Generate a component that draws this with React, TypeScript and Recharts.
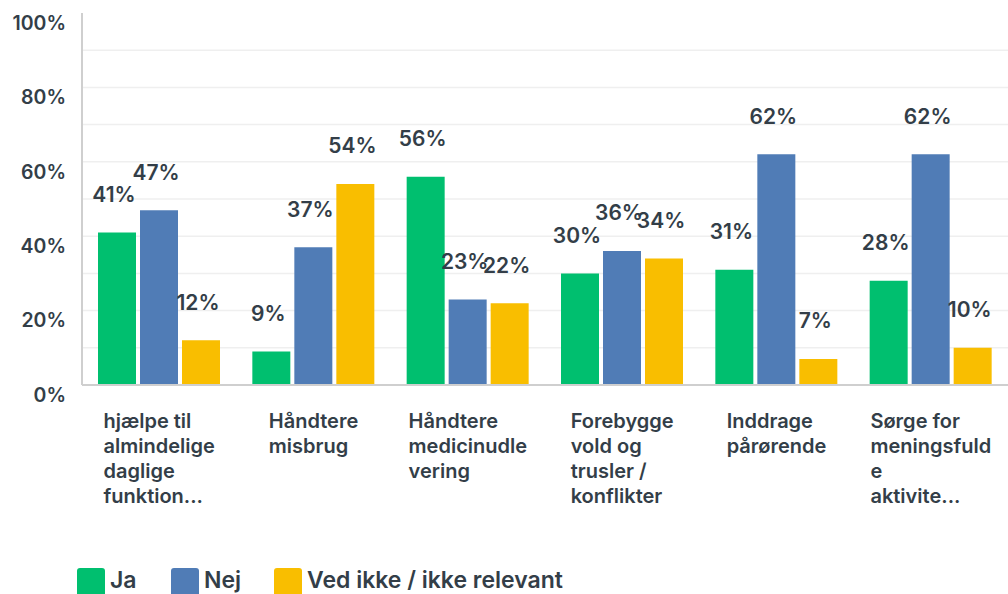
import React from 'react';
import { BarChart, Bar, XAxis, YAxis, CartesianGrid, LabelList } from 'recharts';

const categories = [
    'hjælpe til almindelige daglige funktion...',
    'Håndtere misbrug',
    'Håndtere medicinudlevering',
    'Forebygge vold og trusler / konflikter',
    'Inddrage pårørende',
    'Sørge for meningsfulde aktivite...',
];

// wrapped tick lines, as shown under each group
const categoryLines = [
    ['hjælpe til', 'almindelige', 'daglige', 'funktion...'],
    ['Håndtere', 'misbrug'],
    ['Håndtere', 'medicinudle', 'vering'],
    ['Forebygge', 'vold og', 'trusler /', 'konflikter'],
    ['Inddrage', 'pårørende'],
    ['Sørge for', 'meningsfuld', 'e', 'aktivite...'],
];

const ja = [41, 9, 56, 30, 31, 28];
const nej = [47, 37, 23, 36, 62, 62];
const vedIkke = [12, 54, 22, 34, 7, 10];

const yTicks = [0, 20, 40, 60, 80, 100];
const gridValues = [10, 20, 30, 40, 50, 60, 70, 80, 90];

const series = [
    { key: 'ja', name: 'Ja', color: '#00BF6F' },
    { key: 'nej', name: 'Nej', color: '#507CB6' },
    { key: 'vedIkke', name: 'Ved ikke / ikke relevant', color: '#F9BE00' },
];

const TEXT = '#333E48';
const FONT = 'Inter, "Open Sans", sans-serif';

const data = categories.map((c, i) => ({
    name: c,
    idx: i,
    ja: ja[i],
    nej: nej[i],
    vedIkke: vedIkke[i],
}));

let ctx: CanvasRenderingContext2D | null = null;
function textWidth(s: string, font: string) {
    if (!ctx) ctx = document.createElement('canvas').getContext('2d');
    if (!ctx) return s.length * 10;
    ctx.font = font;
    return ctx.measureText(s).width;
}

const CategoryTick = (props: any) => {
    const { x, y, index } = props;
    const lines = categoryLines[index] || [];
    const font = `600 20px ${FONT}`;
    let w = 0;
    lines.forEach((l) => { w = Math.max(w, textWidth(l, font)); });
    const left = x - w / 2;
    return (
        <text x={left} y={y + 41} fill={TEXT} fontSize={20} fontWeight={600} fontFamily={FONT} textAnchor='start'>
            {lines.map((l, i) => (
                <tspan key={i} x={left} dy={i === 0 ? 0 : 25}>{l}</tspan>
            ))}
        </text>
    );
};

const PercentTick = (props: any) => {
    const { x, y, payload } = props;
    return (
        <text x={x} y={y + 10} dy='0.35em' fill={TEXT} fontSize={19.5} fontWeight={600} fontFamily={FONT} textAnchor='end'>
            {payload.value}%
        </text>
    );
};

const ValueLabel = (props: any) => {
    const { x, y, width, value } = props;
    return (
        <text x={x + width / 2 - 3} y={y - 38} dy='0.35em' fill={TEXT} fontSize={21} fontWeight={600} fontFamily={FONT} textAnchor='middle'>
            {value}%
        </text>
    );
};

export default function App() {
    return (
        <div style={{ position: 'absolute', left: 0, top: 0, width: 1008, height: 594, background: '#fff', overflow: 'hidden' }}>
            <BarChart
                width={1008}
                height={594}
                data={data}
                margin={{ top: 13, right: 0, bottom: 68, left: 0 }}
                barSize={38}
                barGap={4}
            >
                <CartesianGrid
                    vertical={false}
                    horizontalValues={gridValues}
                    stroke='#EFEFEF'
                    strokeWidth={1.5}
                />
                <XAxis
                    dataKey='name'
                    interval={0}
                    height={141}
                    tick={<CategoryTick />}
                    tickLine={false}
                    tickSize={0}
                    axisLine={{ stroke: '#CFCFCF', strokeWidth: 2 }}
                />
                <YAxis
                    type='number'
                    domain={[0, 100]}
                    ticks={yTicks}
                    width={82}
                    tick={<PercentTick />}
                    tickLine={false}
                    tickSize={0}
                    tickMargin={16}
                    axisLine={{ stroke: '#CFCFCF', strokeWidth: 2 }}
                />
                {series.map((s) => (
                    <Bar key={s.key} dataKey={s.key} name={s.name} fill={s.color} isAnimationActive={false}>
                        <LabelList dataKey={s.key} content={<ValueLabel />} />
                    </Bar>
                ))}
            </BarChart>
            <div style={{ position: 'absolute', left: 77, top: 568, height: 26, display: 'flex', alignItems: 'flex-start', fontFamily: FONT, fontSize: 23, lineHeight: '20px', fontWeight: 600, color: TEXT }}>
                {series.map((s, i) => (
                    <div key={s.key} style={{ display: 'flex', alignItems: 'flex-start', width: i === 0 ? 94 : i === 1 ? 103 : undefined }}>
                        <div style={{ width: 28, height: 26, borderRadius: '3px 3px 0 0', background: s.color, marginRight: 5, flexShrink: 0 }} />
                        <span style={{ marginTop: 2 }}>{s.name}</span>
                    </div>
                ))}
            </div>
        </div>
    );
}
